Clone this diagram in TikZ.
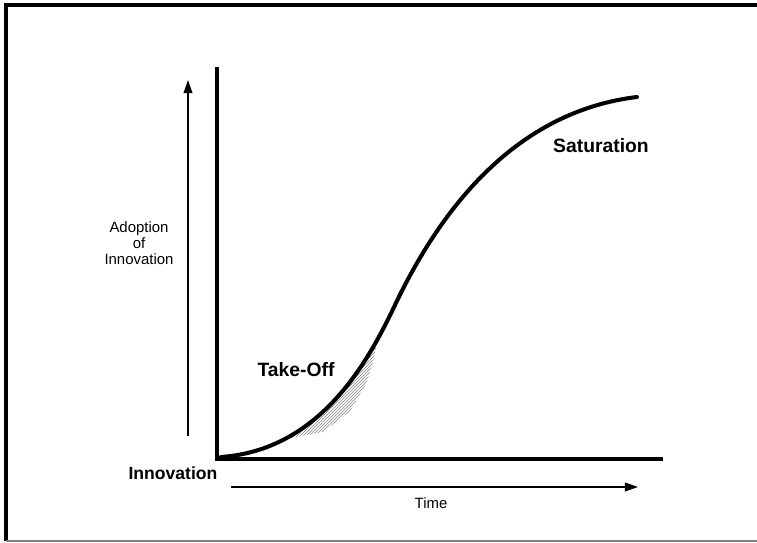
\documentclass[tikz,border=0pt]{standalone}
\usepackage{fontspec}
\setmainfont{Liberation Sans}
\usetikzlibrary{arrows.meta, positioning}

\begin{document}
\begin{tikzpicture}[x=0.02cm, y=-0.02cm,
	lbl/.style={font=\fontsize{8.5}{9.2}\selectfont, align=center, inner sep=0pt},
	phase/.style={font=\fontsize{11}{13}\selectfont\bfseries, inner sep=0pt},
	axis/.style={line width=2.3pt},
	guide/.style={line width=0.85pt, -{Triangle[length=7.5pt, width=5pt]}}]
				\useasboundingbox (0,0) rectangle (757,543);
				% frame
				\draw[line width=1.8pt] (4,5) -- (757,5);
				\draw[line width=1.8pt] (6,4) -- (6,541);
				\draw[gray, line width=0.9pt] (6,541) -- (757,541);
				
				\coordinate (orig) at (217,459);
				\coordinate (ytop) at (217,67);
				\coordinate (xend) at (663,459);
				\coordinate (upfrom) at (188,436);
				\coordinate (upto) at (188,80);
				\coordinate (tfrom) at (231,487);
				\coordinate (tto) at (638,487);
				\coordinate (start) at (221,457);
				\coordinate (infl) at (395,305);
				\coordinate (top) at (637,97);
				
				% hatched take-off area
				\begin{scope}
				\clip (286,439) -- (323,410) -- (350,380) -- (377,343) -- (373,362) -- (366,384) -- (350,411) -- (323,432) -- cycle;
				\foreach \i in {200,203,...,420}
				\draw[gray, line width=0.35pt] (\i,470) -- ++(150,-150);
				\end{scope}
				
				\draw[axis] (ytop) -- (orig) -- (xend);
				\draw[guide] (upfrom) -- (upto);
				\draw[guide] (tfrom) -- (tto);
				
				% adoption curve
				\draw[line width=2.3pt, line cap=round] (start) .. controls (320,450) and (368,362) .. (infl)
				.. controls (455,179) and (537,109) .. (top);
				
				\node[phase] (takeoff) at (296,370) {Take-Off};
				\node[phase] (sat) at (601,146) {Saturation};
				\node[phase, font=\fontsize{10}{12}\selectfont\bfseries] (innov) at (173,473) {Innovation};
				\node[lbl] (adopt) at (139,243) {Adoption\\of\\Innovation};
				\node[lbl] (time) at (431,503) {Time};
\end{tikzpicture}
\end{document}
